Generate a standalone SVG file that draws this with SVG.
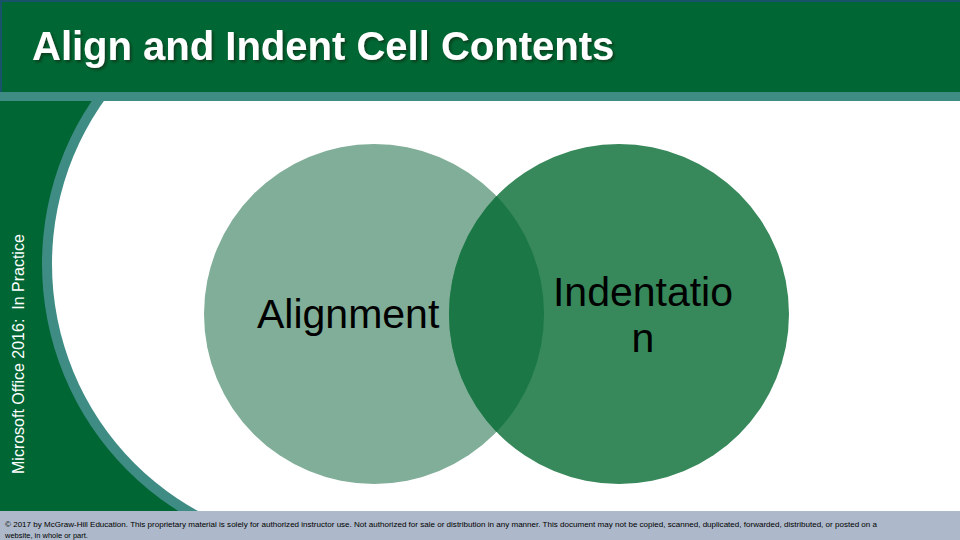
<svg xmlns="http://www.w3.org/2000/svg" width="960" height="540" viewBox="0 0 960 540">
  <style>
    .title { font-family: "Liberation Sans", Arial, sans-serif; font-weight: bold; font-size: 40px; fill: #ffffff; }
    .side { font-family: "Liberation Sans", Arial, sans-serif; font-size: 16px; fill: #ffffff; }
    .label { font-family: "Liberation Sans", Arial, sans-serif; font-size: 41px; fill: #000000; }
    .foot { font-family: "Liberation Sans", Arial, sans-serif; font-size: 7.5px; fill: #000000; }
  </style>
  <defs>
    <clipPath id="bodyClip">
      <rect x="0" y="101" width="960" height="410"/>
    </clipPath>
    <filter id="shadow" x="-5%" y="-20%" width="110%" height="150%">
      <feDropShadow dx="2" dy="2" stdDeviation="0.8" flood-color="#0a2a18" flood-opacity="0.65"/>
    </filter>
  </defs>

  <g id="background">
    <rect x="0" y="0" width="960" height="540" fill="#006633"/>
    <rect x="0" y="92" width="960" height="9" fill="#3F8C84"/>
    <g clip-path="url(#bodyClip)">
      <circle cx="334" cy="264" r="292" fill="#3F8C84"/>
      <circle cx="334" cy="264" r="282" fill="#ffffff"/>
      <rect x="334" y="101" width="626" height="410" fill="#ffffff"/>
    </g>
    <rect x="0" y="511" width="960" height="29" fill="#ADB9CA"/>
    <path d="M0,1 H960 M1,0 V92" stroke="#1F4E79" stroke-width="2" fill="none" opacity="0.8"/>
  </g>

  <g id="title">
    <text class="title" x="32" y="60" filter="url(#shadow)">Align and Indent Cell Contents</text>
  </g>

  <g id="side-label">
    <text class="side" transform="translate(24,474) rotate(-90)" xml:space="preserve">Microsoft Office 2016:  In Practice</text>
  </g>

  <g id="node-alignment">
    <circle cx="374" cy="314" r="170" fill="#80AE98"/>
  </g>
  <g id="node-indentation">
    <circle cx="619" cy="314" r="170" fill="#37885A"/>
  </g>
  <g id="overlap">
    <path d="M496.5,196.1 A170,170 0 0 1 496.5,431.9 A170,170 0 0 1 496.5,196.1 Z" fill="#1B7846"/>
  </g>
  <g id="labels">
    <text class="label" x="257" y="328">Alignment</text>
    <text class="label" x="643" y="306" text-anchor="middle">Indentatio</text>
    <text class="label" x="643" y="352" text-anchor="middle">n</text>
  </g>

  <g id="footer">
    <text class="foot" x="5" y="527" textLength="872" lengthAdjust="spacingAndGlyphs">© 2017 by McGraw-Hill Education. This proprietary material is solely for authorized instructor use. Not authorized for sale or distribution in any manner. This document may not be copied, scanned, duplicated, forwarded, distributed, or posted on a</text>
    <text class="foot" x="5" y="538">website, in whole or part.</text>
  </g>
</svg>
